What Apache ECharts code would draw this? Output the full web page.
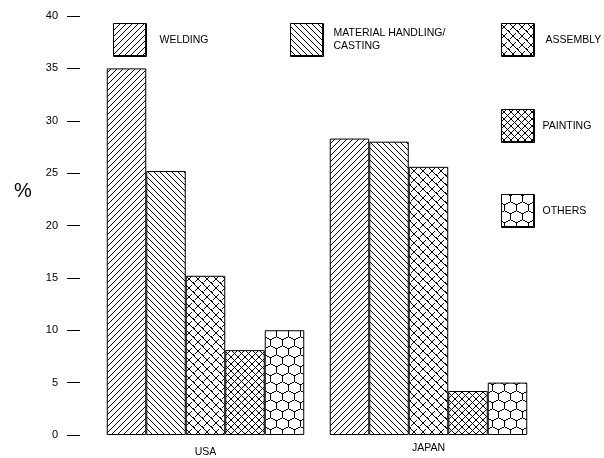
<!DOCTYPE html>
<html>
<head>
<meta charset="utf-8">
<script src="https://cdn.jsdelivr.net/npm/echarts@6/dist/echarts.min.js"></script>
<style>
html,body{margin:0;padding:0;background:#fff;}
#c{width:604px;height:458px;}
</style>
</head>
<body>
<div id="c"></div>
<script>
// ---- data ----
var categories = ['USA', 'JAPAN'];
var seriesNames = ['WELDING', 'MATERIAL HANDLING/CASTING', 'ASSEMBLY', 'PAINTING', 'OTHERS'];
var welding = [35.0, 28.3];
var materialHandling = [25.2, 28.0];
var assembly = [15.2, 25.6];
var painting = [8.1, 4.2];
var others = [10.0, 5.0];
var yTicks = [0, 5, 10, 15, 20, 25, 30, 35, 40];

// ---- crisp pixel patterns ----
function mk(w, h, draw) {
  var c = document.createElement('canvas');
  c.width = w; c.height = h;
  var g = c.getContext('2d');
  g.fillStyle = '#fff'; g.fillRect(0, 0, w, h);
  g.fillStyle = '#000';
  function px(x, y) {
    x = Math.round(x); y = Math.round(y);
    x = ((x % w) + w) % w; y = ((y % h) + h) % h;
    g.fillRect(x, y, 1, 1);
  }
  function line(x0, y0, x1, y1) {
    var n = Math.max(Math.abs(x1 - x0), Math.abs(y1 - y0));
    for (var i = 0; i <= n; i++) px(x0 + (x1 - x0) * i / n, y0 + (y1 - y0) * i / n);
  }
  draw(px, line, w, h);
  return { image: c, repeat: 'repeat' };
}
var patWelding = mk(6, 6, function (px, line) { line(0, 5, 5, 0); });
var patMH = mk(6, 6, function (px, line) { line(0, 0, 5, 5); });
var patPainting = mk(7, 7, function (px, line) { line(0, 0, 6, 6); line(0, 6, 6, 0); });
var patAssembly = mk(9, 9, function (px, line) {
  line(0, 0, 8, 8);
  line(0, 8, 2, 6);
  line(6, 2, 8, 0);
  px(4, 3); px(5, 4);
});
var patOthers = mk(12, 18, function (px, line) {
  [[0, 0], [6, 9]].forEach(function (p) {
    var cx = p[0], cy = p[1];
    line(cx, cy - 6, cx + 6, cy - 3);
    line(cx + 6, cy - 3, cx + 6, cy + 3);
    line(cx + 6, cy + 3, cx, cy + 6);
    line(cx, cy + 6, cx - 6, cy + 3);
    line(cx - 6, cy + 3, cx - 6, cy - 3);
    line(cx - 6, cy - 3, cx, cy - 6);
  });
});
var patterns = [patWelding, patMH, patAssembly, patPainting, patOthers];
var values = [welding, materialHandling, assembly, painting, others];

var FONT = "'Liberation Sans', Arial, sans-serif";
var SW = 33; // legend swatch size

// legend placements (layout, not data)
var legendPos = [
  { left: 113, top: 23, pad: [0, 0, 0, 8] },
  { left: 290, top: 23, pad: [4, 0, 0, 5] },
  { left: 501, top: 23, pad: [0, 0, 12, 6] },
  { left: 501, top: 109, pad: [0, 0, 12, 3] },
  { left: 501, top: 194, pad: [0, 0, 12, 3] }
];

var chart = echarts.init(document.getElementById('c'), null, { renderer: 'canvas' });

var legends = seriesNames.map(function (n, i) {
  var p = legendPos[i];
  return {
    data: [{ name: n, itemStyle: { color: '#fff', borderColor: '#000', borderWidth: 1 } }],
    left: p.left, top: p.top, padding: 0,
    itemWidth: SW, itemHeight: SW, icon: 'rect', selectedMode: false,
    orient: 'vertical',
    formatter: i === 1 ? function () { return 'MATERIAL HANDLING/\nCASTING'; } : undefined,
    textStyle: { fontSize: 10.5, color: '#000', fontFamily: FONT, padding: p.pad, lineHeight: 13 }
  };
});

// swatch fills drawn exactly on the legend icons (pattern kept at native scale)
var swatches = seriesNames.map(function (n, i) {
  var p = legendPos[i];
  return {
    type: 'rect', z: 100, silent: true,
    shape: { x: p.left + 0.5, y: p.top + 0.5, width: SW - 1, height: SW - 1 },
    style: { fill: patterns[i], stroke: '#000', lineWidth: 1 }
  };
});

var series = seriesNames.map(function (n, i) {
  return {
    name: n, type: 'bar', data: values[i],
    barWidth: 39.5, barGap: '0%',
    itemStyle: { color: patterns[i], borderColor: '#000', borderWidth: 1 },
    emphasis: { disabled: true }
  };
});

chart.setOption({
  animation: false,
  backgroundColor: '#fff',
  title: {
    text: '%', left: 14, top: 181, padding: 0,
    textStyle: { fontSize: 20, fontWeight: 'normal', color: '#000', fontFamily: FONT }
  },
  legend: legends,
  graphic: swatches,
  grid: { left: 94, right: 64, top: 16, bottom: 21, containLabel: false },
  xAxis: {
    type: 'category',
    data: [
      { value: categories[0], textStyle: { padding: [4, 0, 0, 0] } },
      { value: categories[1], textStyle: { padding: [0, 0, 0, 0] } }
    ],
    axisLine: { show: false }, axisTick: { show: false },
    axisLabel: { fontSize: 10.5, color: '#000', fontFamily: FONT, margin: 8 }
  },
  yAxis: {
    type: 'value', min: yTicks[0], max: yTicks[yTicks.length - 1], interval: 5,
    offset: 14,
    axisLine: { show: false },
    axisTick: { show: true, length: 13, lineStyle: { color: '#000', width: 1 } },
    axisLabel: { fontSize: 11, color: '#000', fontFamily: FONT, margin: 22 },
    splitLine: { show: false }
  },
  series: series
});
</script>
</body>
</html>
